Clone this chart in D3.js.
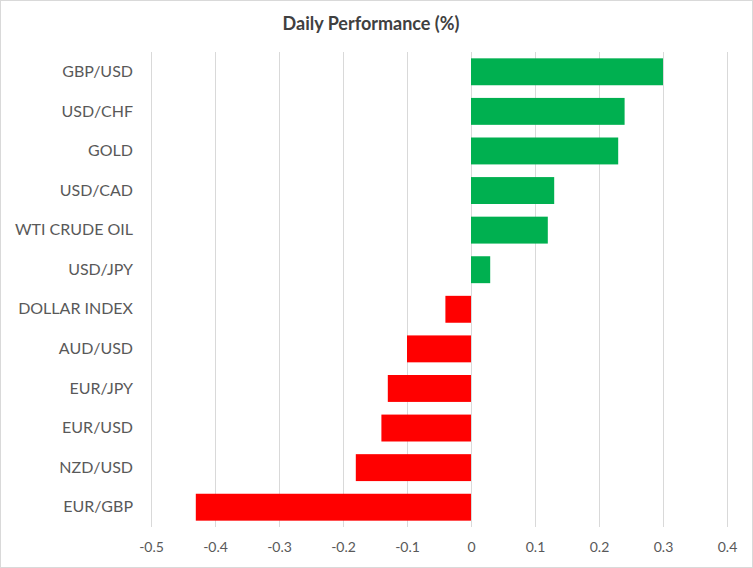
<!DOCTYPE html>
<html>
<head>
<meta charset="utf-8">
<script src="https://cdn.jsdelivr.net/npm/d3@7"></script>
<style>
  body { margin: 0; background: #fff; }
  svg text { font-family: Lato, "Open Sans", sans-serif; }
</style>
</head>
<body>
<svg id="chart"></svg>
<script>
// values
var categories = ["GBP/USD", "USD/CHF", "GOLD", "USD/CAD", "WTI CRUDE OIL", "USD/JPY",
                  "DOLLAR INDEX", "AUD/USD", "EUR/JPY", "EUR/USD", "NZD/USD", "EUR/GBP"];
var values = [0.30, 0.24, 0.23, 0.13, 0.12, 0.03, -0.04, -0.10, -0.13, -0.14, -0.18, -0.43];
var tickValues = [-0.5, -0.4, -0.3, -0.2, -0.1, 0, 0.1, 0.2, 0.3, 0.4];

var width = 753,
    height = 568,
    margin = {top: 52, right: 26, bottom: 41, left: 151};

var svg = d3.select("#chart")
    .attr("width", width)
    .attr("height", height);

svg.append("rect")
    .attr("x", 0.5).attr("y", 0.5)
    .attr("width", width - 1).attr("height", height - 1)
    .attr("fill", "#fff")
    .attr("stroke", "#d9d9d9");

var x = d3.scaleLinear()
    .domain([-0.5, 0.4])
    .range([margin.left, width - margin.right]);

var y = d3.scaleBand()
    .domain(categories)
    .range([margin.top, height - margin.bottom])
    .paddingInner(0.32)
    .paddingOuter(0.16);

// vertical gridlines
svg.append("g")
    .selectAll("line")
    .data(tickValues)
    .enter()
    .append("line")
    .attr("x1", function(d) { return Math.round(x(d)) + 0.5; })
    .attr("x2", function(d) { return Math.round(x(d)) + 0.5; })
    .attr("y1", margin.top)
    .attr("y2", height - margin.bottom)
    .attr("stroke", "#d9d9d9")
    .attr("stroke-width", 1);

// bars
svg.append("g")
    .selectAll("rect")
    .data(values)
    .enter()
    .append("rect")
    .attr("x", function(d) { return x(Math.min(0, d)); })
    .attr("y", function(d, i) { return y(categories[i]); })
    .attr("width", function(d) { return Math.abs(x(d) - x(0)); })
    .attr("height", y.bandwidth())
    .attr("fill", function(d) { return d >= 0 ? "#00b050" : "#ff0000"; });

// x axis labels
var xAxis = d3.axisBottom(x)
    .tickValues(tickValues)
    .tickSize(0)
    .tickPadding(15)
    .tickFormat(function(d) { return d3.format("")(+d.toFixed(1)).replace("−", "-"); });

var gx = svg.append("g")
    .attr("transform", "translate(0," + (height - margin.bottom) + ")")
    .call(xAxis);
gx.select(".domain").remove();
gx.selectAll("text")
    .attr("fill", "#595959")
    .style("font-size", "14px");

// category labels
var yAxis = d3.axisLeft(y).tickSize(0).tickPadding(18);
var gy = svg.append("g")
    .attr("transform", "translate(" + margin.left + ",0)")
    .call(yAxis);
gy.select(".domain").remove();
gy.selectAll("text")
    .attr("fill", "#595959")
    .style("font-size", "16px");

// title
svg.append("text")
    .attr("x", 371)
    .attr("y", 30)
    .attr("text-anchor", "middle")
    .attr("fill", "#404040")
    .style("font-size", "18px")
    .style("font-weight", "bold")
    .text("Daily Performance (%)");
</script>
</body>
</html>
